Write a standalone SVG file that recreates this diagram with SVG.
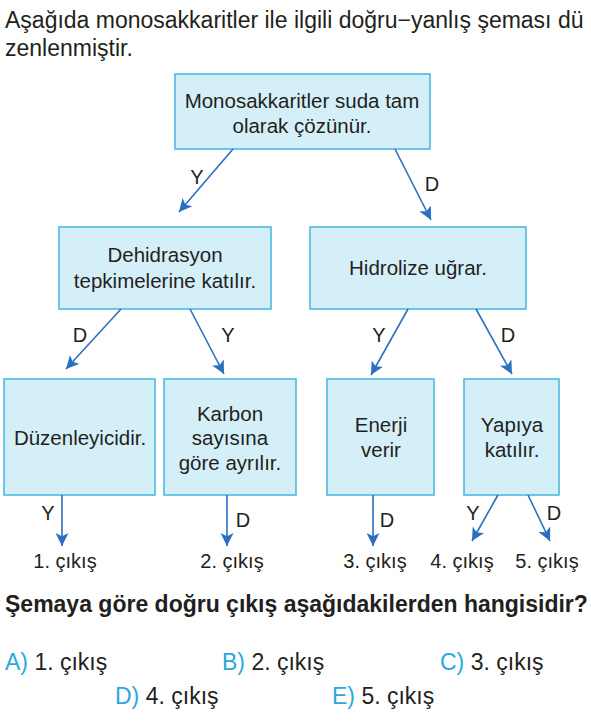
<svg xmlns="http://www.w3.org/2000/svg" width="591" height="725" viewBox="0 0 591 725">
<style>
text{font-family:"Liberation Sans",Arial,sans-serif;fill:#231f20;font-size:20.5px}
.c{text-anchor:middle}
.big{font-size:23px}
.box{fill:#d5eff9;stroke:#4db8e2;stroke-width:1.6}
.arr{stroke:#2b6fc1;stroke-width:1.6;fill:none;marker-end:url(#ah)}
.lbl{font-size:20px}
.opt{fill:#29a8e0}
.q{font-weight:bold}
</style>
<defs>
<marker id="ah" markerWidth="13" markerHeight="13" refX="10" refY="5" orient="auto" markerUnits="userSpaceOnUse" viewBox="0 0 10 10">
<path d="M0,0 L10,5 L0,10 L2.5,5 z" fill="#2b6fc1"/>
</marker>
</defs>
<rect width="591" height="725" fill="#fff"/>
<text class="big" x="5" y="28">Aşağıda monosakkaritler ile ilgili doğru−yanlış şeması dü</text>
<text class="big" x="5" y="56">zenlenmiştir.</text>

<g id="n_root"><rect class="box" x="175" y="74" width="255" height="75"/>
<text class="c" x="302" y="108">Monosakkaritler suda tam</text>
<text class="c" x="302" y="133">olarak çözünür.</text></g>

<g id="n_dehid"><rect class="box" x="59" y="227" width="212" height="82"/>
<text class="c" x="165" y="262">Dehidrasyon</text>
<text class="c" x="165" y="288">tepkimelerine katılır.</text></g>

<g id="n_hidro"><rect class="box" x="310" y="227" width="216" height="82"/>
<text class="c" x="418" y="275">Hidrolize uğrar.</text></g>

<g id="n_duz"><rect class="box" x="4" y="379" width="151" height="116"/>
<text class="c" x="80" y="445">Düzenleyicidir.</text></g>

<g id="n_karbon"><rect class="box" x="164" y="379" width="132" height="116"/>
<text class="c" x="230" y="421">Karbon</text>
<text class="c" x="230" y="445">sayısına</text>
<text class="c" x="230" y="470">göre ayrılır.</text></g>

<g id="n_enerji"><rect class="box" x="327" y="379" width="107" height="116"/>
<text class="c" x="381" y="432">Enerji</text>
<text class="c" x="381" y="457">verir</text></g>

<g id="n_yapi"><rect class="box" x="464" y="379" width="95" height="116"/>
<text class="c" x="512" y="432">Yapıya</text>
<text class="c" x="512" y="457">katılır.</text></g>

<g id="connectors">
<line class="arr" x1="233" y1="149" x2="179" y2="212"/>
<line class="arr" x1="395" y1="149" x2="431" y2="220"/>
<line class="arr" x1="121" y1="309" x2="66" y2="369"/>
<line class="arr" x1="190" y1="309" x2="224" y2="374"/>
<line class="arr" x1="408" y1="309" x2="371" y2="375"/>
<line class="arr" x1="476" y1="309" x2="512" y2="374"/>
<line class="arr" x1="62" y1="495" x2="62" y2="546"/>
<line class="arr" x1="227" y1="495" x2="227" y2="546"/>
<line class="arr" x1="373" y1="495" x2="373" y2="546"/>
<line class="arr" x1="498" y1="495" x2="472" y2="541"/>
<line class="arr" x1="528" y1="495" x2="550" y2="541"/>
</g>

<g id="labels">
<text class="c lbl" x="197" y="184">Y</text>
<text class="c lbl" x="432" y="191">D</text>
<text class="c lbl" x="80" y="342">D</text>
<text class="c lbl" x="228" y="342">Y</text>
<text class="c lbl" x="379" y="342">Y</text>
<text class="c lbl" x="508" y="342">D</text>
<text class="c lbl" x="48" y="520">Y</text>
<text class="c lbl" x="243" y="527">D</text>
<text class="c lbl" x="387" y="527">D</text>
<text class="c lbl" x="473" y="520">Y</text>
<text class="c lbl" x="554" y="520">D</text>
<text class="c lbl" x="65" y="568">1. çıkış</text>
<text class="c lbl" x="232" y="568">2. çıkış</text>
<text class="c lbl" x="375" y="568">3. çıkış</text>
<text class="c lbl" x="462" y="568">4. çıkış</text>
<text class="c lbl" x="547" y="568">5. çıkış</text>
</g>

<text class="q big" x="5" y="612">Şemaya göre doğru çıkış aşağıdakilerden hangisidir?</text>
<text class="big" x="5" y="670"><tspan class="opt">A)</tspan> 1. çıkış</text>
<text class="big" x="222" y="670"><tspan class="opt">B)</tspan> 2. çıkış</text>
<text class="big" x="440" y="670"><tspan class="opt">C)</tspan> 3. çıkış</text>
<text class="big" x="115" y="704"><tspan class="opt">D)</tspan> 4. çıkış</text>
<text class="big" x="332" y="704"><tspan class="opt">E)</tspan> 5. çıkış</text>
</svg>
